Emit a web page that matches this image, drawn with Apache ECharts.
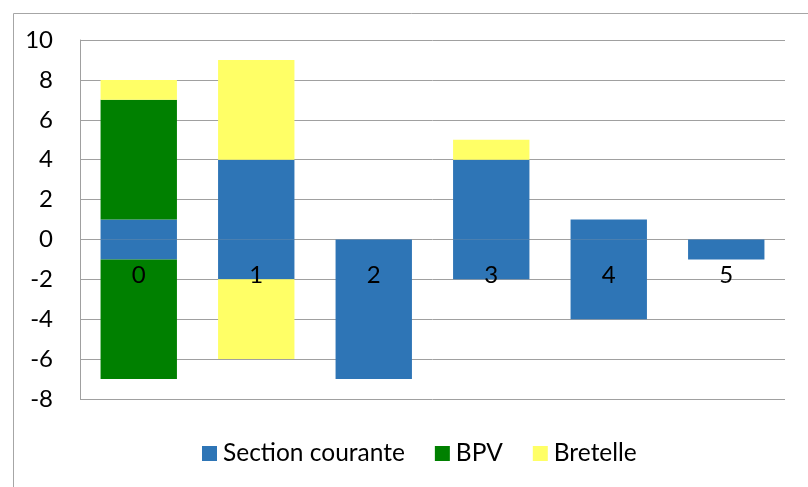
<!DOCTYPE html>
<html>
<head>
<meta charset="utf-8">
<script src="https://cdn.jsdelivr.net/npm/echarts@6/dist/echarts.min.js"></script>
<style>
  html, body { margin: 0; padding: 0; background: #ffffff; }
  #chart { width: 808px; height: 487px; }
</style>
</head>
<body>
<div id="chart"></div>
<script>
// categories (x axis)
var categories = ["0", "1", "2", "3", "4", "5"];
// values above zero / below zero for each type
var sectionPos = [1, 4, 0, 4, 1, 0];
var sectionNeg = [-1, -2, -7, -2, -4, -1];
var bpvPos = [6, 0, 0, 0, 0, 0];
var bpvNeg = [-6, 0, 0, 0, 0, 0];
var bretellePos = [1, 5, 0, 1, 0, 0];
var bretelleNeg = [0, -4, 0, 0, 0, 0];
var legendNames = ["Section courante", "BPV", "Bretelle"];
var yMin = -8, yMax = 10;

var fontName = "Lato, 'Open Sans', sans-serif";
var colors = { "Section courante": "#2E75B6", "BPV": "#008000", "Bretelle": "#FFFF66" };

function barSeries(name, data) {
  return {
    name: name,
    type: "bar",
    stack: "total",
    barWidth: "65%",
    itemStyle: { color: colors[name] },
    data: data
  };
}

var gridTop = 40, gridBottom = 88, chartH = 487;
var plotH = chartH - gridTop - gridBottom;
// category labels sit next to the zero line (like excel), move the axis up to 0
var zeroOffset = -plotH * (0 - yMin) / (yMax - yMin);

var myChart = echarts.init(document.getElementById("chart"));
var option = {
  animation: false,
  textStyle: { fontFamily: fontName },
  graphic: [{
    type: "rect",
    left: 11, top: 11,
    shape: { width: 900, height: 600 },
    style: { fill: "none", stroke: "#a6a6a6", lineWidth: 1 },
    z: -10
  }],
  grid: { left: 80, right: 23, top: gridTop, bottom: gridBottom },
  legend: {
    data: legendNames,
    top: 436,
    left: 197,
    icon: "rect",
    itemWidth: 15,
    itemHeight: 15,
    itemGap: 30,
    itemStyle: { borderWidth: 0 },
    textStyle: { fontSize: 24.5, color: "#000", fontFamily: fontName, padding: [0, 0, 0, 1] }
  },
  xAxis: {
    type: "category",
    data: categories,
    z: 10,
    offset: zeroOffset,
    axisLine: { show: false },
    axisTick: { show: false },
    axisLabel: { fontSize: 24, color: "#000", margin: 24, fontFamily: fontName },
    splitLine: { show: false }
  },
  yAxis: {
    type: "value",
    min: yMin,
    max: yMax,
    interval: 2,
    axisLine: { show: true, lineStyle: { color: "#a0a0a0", width: 1 } },
    axisTick: { show: false },
    axisLabel: { fontSize: 24, color: "#000", margin: 27, fontFamily: fontName },
    splitLine: { lineStyle: { color: "#a0a0a0", width: 1 } }
  },
  series: [
    barSeries("Section courante", sectionPos),
    barSeries("Section courante", sectionNeg),
    barSeries("BPV", bpvPos),
    barSeries("BPV", bpvNeg),
    barSeries("Bretelle", bretellePos),
    barSeries("Bretelle", bretelleNeg)
  ]
};
myChart.setOption(option);
</script>
</body>
</html>
